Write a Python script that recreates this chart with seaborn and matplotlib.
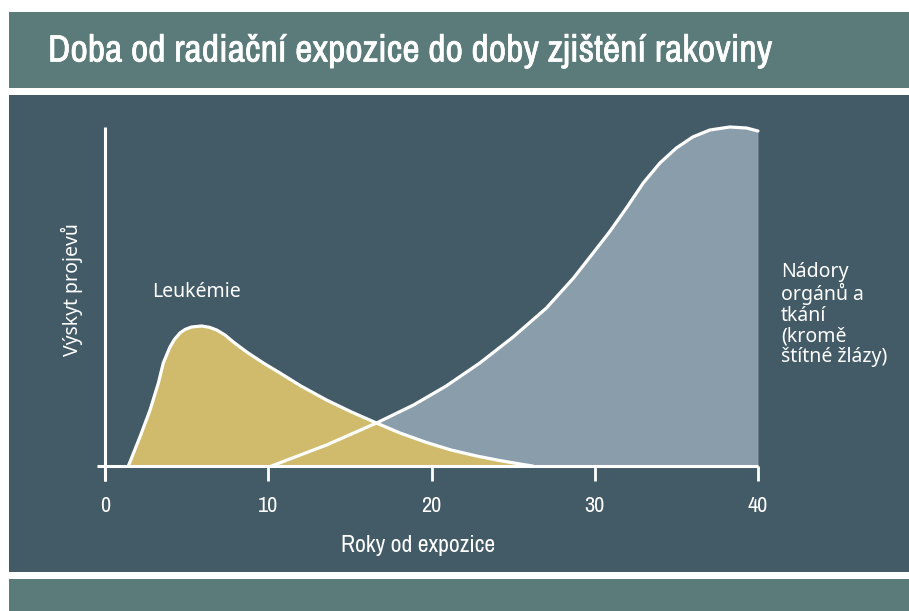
import matplotlib
matplotlib.use("Agg")
import matplotlib.pyplot as plt
import matplotlib.patheffects as pe
import seaborn as sns
import pandas as pd
from matplotlib.patches import Rectangle
from matplotlib import font_manager

# ---- data (arbitrary incidence units) ----
leuk_years = [1.43, 2.14, 2.76, 3.27, 3.57, 3.98, 4.25, 4.59, 4.9, 5.30, 5.92,
              6.4, 6.84, 7.35, 7.86, 8.68, 9.70, 10.72, 12.0, 13.57, 15.1,
              16.63, 18.07, 19.7, 21.2, 22.76, 24.2, 25.6, 26.2]
leuk_incidence = [0, 29, 56, 83, 103, 119, 126.5, 133, 136.5, 139, 140,
                  138.7, 136, 131, 124, 114, 103, 93, 80, 66, 54,
                  43, 33, 23.5, 16, 10, 5.4, 1.5, 0]
tumor_years = [10.2, 13.57, 16.63, 18.9, 20.9, 22.96, 25.0, 27.04, 28.7, 29.9,
               30.9, 31.94, 32.97, 33.99, 35.0, 36.0, 37.05, 38.27, 39.3, 40.0]
tumor_incidence = [0, 21, 43, 61, 80, 103, 129, 158, 188, 213,
                   234, 258, 283, 303, 318, 329, 336, 339, 338, 335]
x_ticks = [0, 10, 20, 30, 40]

title = "Doba od radiační expozice do doby zjištění rakoviny"
x_label = "Roky od expozice"
y_label = "Výskyt projevů"
leuk_label = "Leukémie"
tumor_label = "Nádory\norgánů a\ntkání\n(kromě\nštítné žlázy)"

# ---- colours ----
BAND = "#5b7a7a"
PANEL = "#435a67"
LEUK = "#d0ba6c"
TUMOR = "#8a9dab"
WHITE = "#ffffff"

sns.set_style("white")
plt.rcParams["font.family"] = ["Noto Sans", "DejaVu Sans"]

names = sorted({f.name for f in font_manager.fontManager.ttflist})
cond = [n for n in names if "Narrow" in n or "Condensed" in n]
COND = cond[0] if cond else "DejaVu Sans"

W, H = 909, 611
fig = plt.figure(figsize=(W / 100, H / 100), dpi=100, facecolor="white")

def px_rect(x0, y0, x1, y1, color):
    fig.patches.append(Rectangle((x0 / W, 1 - y1 / H), (x1 - x0) / W, (y1 - y0) / H,
                                 transform=fig.transFigure, facecolor=color,
                                 edgecolor="none", zorder=-5))

px_rect(9, 12, 909, 88, BAND)
px_rect(9, 95, 909, 572, PANEL)
px_rect(9, 579, 909, 611, BAND)

# axes: data x -1..41 mapped to pixels, 0 -> 105px, 40 -> 758px
ppu = (758 - 105) / 40
xl, xr = -1, 41
ax_left = 105 + xl * ppu
ax_right = 105 + xr * ppu
yb, yt = -15, 350
ax_bottom_px = 481
ax_top_px = ax_bottom_px - (yt - yb)
ax = fig.add_axes([ax_left / W, 1 - ax_bottom_px / H, (ax_right - ax_left) / W,
                   (ax_bottom_px - ax_top_px) / H])
ax.set_zorder(2)
ax.set_facecolor("none")
ax.set_xlim(xl, xr)
ax.set_ylim(yb, yt)

leuk_df = pd.DataFrame({"year": leuk_years, "value": leuk_incidence})
tumor_df = pd.DataFrame({"year": tumor_years, "value": tumor_incidence})

ax.fill_between(tumor_df["year"], 0, tumor_df["value"], color=TUMOR, lw=0, zorder=1)
ax.fill_between(leuk_df["year"], 0, leuk_df["value"], color=LEUK, lw=0, zorder=2)
for df in (tumor_df, leuk_df):
    sns.lineplot(data=df, x="year", y="value", ax=ax, color=WHITE, lw=2.3,
                 zorder=3, clip_on=False, sort=False, solid_joinstyle="round",
                 solid_capstyle="round")

# spines
for s in ["top", "right"]:
    ax.spines[s].set_visible(False)
ax.spines["left"].set_position(("data", 0))
ax.spines["left"].set_bounds(yb, 339)
ax.spines["bottom"].set_position(("data", 0))
ax.spines["bottom"].set_bounds(-0.5, 40)
for s in ["left", "bottom"]:
    ax.spines[s].set_color(WHITE)
    ax.spines[s].set_linewidth(2.2)
    ax.spines[s].set_zorder(4)
    ax.spines[s].set_capstyle("butt")

ax.set_xticks(x_ticks)
ax.set_xticklabels([str(t) for t in x_ticks], fontfamily=[COND, "DejaVu Sans"],
                   fontstretch="condensed")
ax.tick_params(axis="x", direction="out", length=10.8, width=2.0, color=WHITE,
               labelcolor=WHITE, labelsize=16, pad=11, bottom=True)
ax.set_yticks([])
ax.set_xlabel("")
ax.set_ylabel("")

# texts
fig.text(48 / W, 1 - 51 / H, title, color=WHITE, fontsize=27.3,
         family=[COND, "DejaVu Sans"], stretch="condensed", va="center", ha="left",
         path_effects=[pe.withStroke(linewidth=0.5, foreground=WHITE)])
fig.text(418 / W, 1 - 546 / H, x_label, color=WHITE, fontsize=17,
         family=[COND, "DejaVu Sans"], stretch="condensed", va="center", ha="center")
fig.text(72 / W, 1 - 290 / H, y_label, color=WHITE, fontsize=14, rotation=90,
         va="center", ha="center")
fig.text(152 / W, 1 - 292 / H, leuk_label, color=WHITE, fontsize=14,
         va="center", ha="left")
fig.text(781 / W, 1 - 262 / H, tumor_label, color=WHITE, fontsize=14,
         va="top", ha="left", linespacing=1.05)

fig.savefig("out.png", dpi=100, facecolor="white")
